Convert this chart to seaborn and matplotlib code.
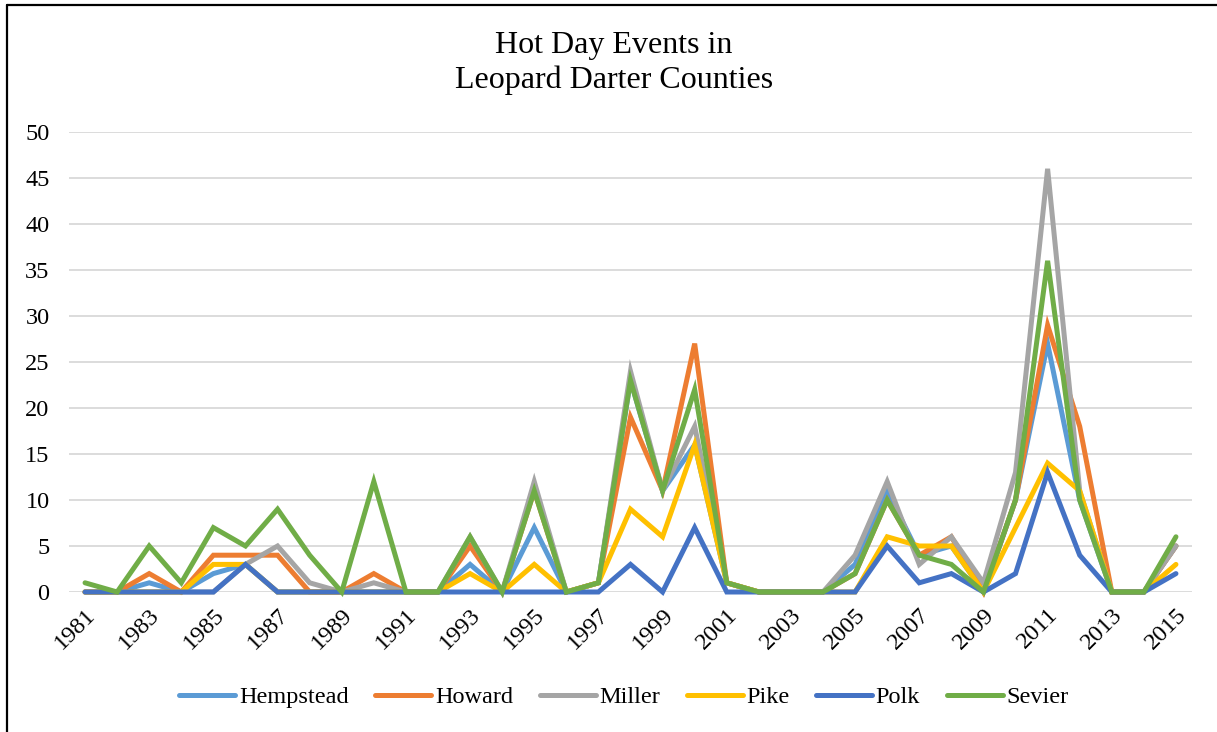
import matplotlib
matplotlib.use("Agg")
import matplotlib.pyplot as plt
from matplotlib.lines import Line2D
import seaborn as sns
import pandas as pd

years = list(range(1981, 2016))

hempstead = [0, 0, 1, 0, 2, 3, 0, 0, 0, 0, 0, 0, 3, 0, 7, 0, 1, 23, 11, 16,
             1, 0, 0, 0, 3, 11, 4, 5, 0, 10, 27, 10, 0, 0, 5]
howard = [0, 0, 2, 0, 4, 4, 4, 0, 0, 2, 0, 0, 5, 0, 11, 0, 1, 19, 11, 27,
          1, 0, 0, 0, 2, 10, 4, 6, 0, 10, 29, 18, 0, 0, 5]
miller = [0, 0, 0, 0, 0, 3, 5, 1, 0, 1, 0, 0, 6, 0, 12, 0, 1, 24, 11, 18,
          1, 0, 0, 0, 4, 12, 3, 6, 1, 13, 46, 11, 0, 0, 5]
pike = [0, 0, 0, 0, 3, 3, 0, 0, 0, 0, 0, 0, 2, 0, 3, 0, 1, 9, 6, 16,
        1, 0, 0, 0, 0, 6, 5, 5, 0, 7, 14, 11, 0, 0, 3]
polk = [0, 0, 0, 0, 0, 3, 0, 0, 0, 0, 0, 0, 0, 0, 0, 0, 0, 3, 0, 7,
        0, 0, 0, 0, 0, 5, 1, 2, 0, 2, 13, 4, 0, 0, 2]
sevier = [1, 0, 5, 1, 7, 5, 9, 4, 0, 12, 0, 0, 6, 0, 11, 0, 1, 23, 11, 22,
          1, 0, 0, 0, 2, 10, 4, 3, 0, 10, 36, 10, 0, 0, 6]

counties = ["Hempstead", "Howard", "Miller", "Pike", "Polk", "Sevier"]
colors = ["#5B9BD5", "#ED7D31", "#A5A5A5", "#FFC000", "#4472C4", "#70AD47"]
series = [hempstead, howard, miller, pike, polk, sevier]

df = pd.DataFrame({
    "Year": years * len(counties),
    "County": [c for c in counties for _ in years],
    "Events": [v for s in series for v in s],
})

sns.set_theme(style="white")
plt.rcParams["font.family"] = ["Liberation Serif", "DejaVu Serif"]
plt.rcParams["text.color"] = "black"
plt.rcParams["xtick.color"] = "black"
plt.rcParams["ytick.color"] = "black"

fig = plt.figure(figsize=(12.17, 7.32), dpi=100)
ax = fig.add_axes([69 / 1217, 1 - 592 / 732, (1192 - 69) / 1217, (592 - 132) / 732])

sns.lineplot(data=df, x="Year", y="Events", hue="County", hue_order=counties,
             palette=colors, linewidth=3.6, ax=ax, legend=False,
             solid_capstyle="round", solid_joinstyle="miter")
for ln in ax.lines:
    ln.set_clip_on(False)

ax.set_xlim(1980.5, 2015.5)
ax.set_ylim(0, 50)
ax.set_yticks(range(0, 51, 5))
ax.set_xticks(years[::2])
ax.set_xticklabels([str(y) for y in years[::2]], rotation=45, ha="right",
                   rotation_mode="anchor", fontsize=17.5)
ax.tick_params(axis="y", labelsize=17.5, length=0, pad=14)
ax.tick_params(axis="x", length=0, pad=9)
ax.yaxis.grid(True, color="#D9D9D9", linewidth=1.3)
ax.xaxis.grid(False)
ax.set_axisbelow(True)
for side in ax.spines.values():
    side.set_visible(False)
ax.set_xlabel("")
ax.set_ylabel("")

fig.text(0.5045, 1 - 63 / 732, "Hot Day Events in\nLeopard Darter Counties",
         ha="center", va="center", fontsize=23, linespacing=1.25)

handles = [Line2D([], [], color=c, linewidth=3.6, solid_capstyle="round")
           for c in colors]
fig.legend(handles, counties, loc="center", bbox_to_anchor=(0.5127, 1 - 697 / 732),
           ncol=6, frameon=False, fontsize=17.5, handlelength=2.3,
           handletextpad=0.15, columnspacing=1.1)

# outer frame edges
fig.add_artist(Line2D([7 / 1217, 7 / 1217], [0, 1 - 5 / 732], color="black",
                      linewidth=1.6, transform=fig.transFigure))
fig.add_artist(Line2D([7 / 1217, 1], [1 - 5 / 732, 1 - 5 / 732], color="black",
                      linewidth=1.6, transform=fig.transFigure))

fig.savefig("out.png", dpi=100, facecolor="white")
